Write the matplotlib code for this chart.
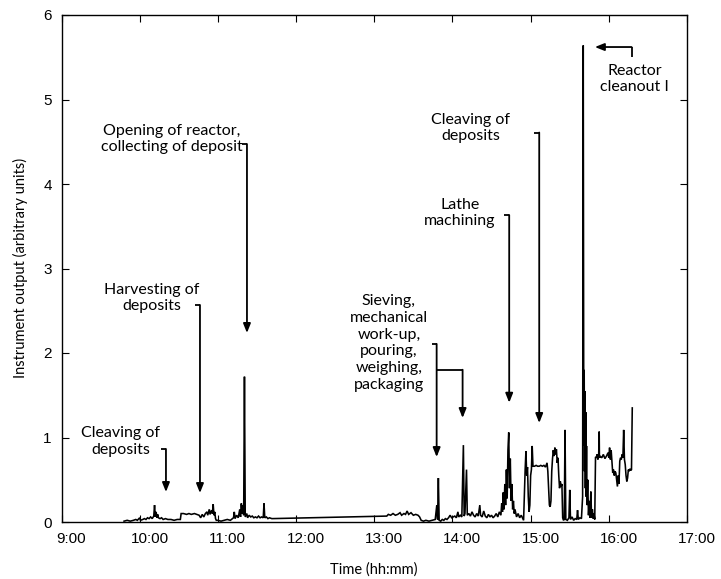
import matplotlib
matplotlib.use("Agg")
import matplotlib.pyplot as plt
import matplotlib.transforms as mtransforms

# ---------------- data (time in decimal hours, output in arbitrary units) -------------
time_morning = [9.80, 9.84, 9.88, 9.92, 9.95, 9.97, 10.00, 10.01, 10.04, 10.06, 10.08, 10.10,
                10.12, 10.14, 10.16, 10.18, 10.19, 10.20, 10.21, 10.22, 10.23, 10.24, 10.26,
                10.28, 10.30, 10.33, 10.36, 10.40, 10.44, 10.48, 10.52,
                10.53, 10.56, 10.60, 10.63, 10.66, 10.70, 10.73, 10.76, 10.78, 10.80, 10.82,
                10.84, 10.86, 10.87, 10.89, 10.90, 10.92, 10.93, 10.94, 10.95, 10.96, 10.97, 10.98,
                11.00, 11.04, 11.08, 11.12, 11.16, 11.20, 11.21, 11.22, 11.24, 11.26, 11.28, 11.29,
                11.30, 11.31, 11.32, 11.33, 11.34, 11.35, 11.37, 11.38, 11.40, 11.42, 11.44, 11.46,
                11.48, 11.50, 11.52, 11.54, 11.56, 11.58, 11.59, 11.60, 11.62, 11.64, 11.66, 11.69]
output_morning = [0.01, 0.02, 0.01, 0.02, 0.03, 0.02, 0.05, 0.02, 0.03, 0.04, 0.03, 0.05,
                  0.04, 0.06, 0.04, 0.07, 0.20, 0.06, 0.12, 0.05, 0.09, 0.05, 0.04,
                  0.05, 0.03, 0.04, 0.03, 0.03, 0.02, 0.03, 0.03,
                  0.10, 0.10, 0.09, 0.10, 0.09, 0.10, 0.09, 0.08, 0.05, 0.09, 0.06,
                  0.10, 0.12, 0.08, 0.15, 0.09, 0.14, 0.10, 0.21, 0.08, 0.12, 0.04, 0.02,
                  0.02, 0.01, 0.02, 0.03, 0.02, 0.05, 0.12, 0.04, 0.08, 0.05, 0.15, 0.06,
                  0.22, 0.10, 0.20, 0.08, 1.72, 0.06, 0.10, 0.05, 0.08, 0.06, 0.07, 0.05,
                  0.06, 0.05, 0.07, 0.05, 0.06, 0.05, 0.22, 0.05, 0.06, 0.04, 0.05, 0.04]

time_afternoon = [13.16, 13.18, 13.21, 13.24, 13.27, 13.30, 13.33, 13.35, 13.38, 13.40, 13.42,
                  13.44, 13.47, 13.50, 13.53, 13.56, 13.58, 13.60,
                  13.63, 13.66, 13.70, 13.74, 13.78, 13.80, 13.81, 13.82, 13.83, 13.85, 13.87,
                  13.89, 13.91, 13.93, 13.95, 13.97, 13.99, 14.01, 14.03, 14.05, 14.07, 14.08,
                  14.10, 14.12, 14.14, 14.15, 14.16, 14.18, 14.19, 14.21, 14.23, 14.25, 14.27,
                  14.29, 14.31, 14.33, 14.35, 14.36, 14.38, 14.40, 14.42, 14.44, 14.46, 14.48,
                  14.50, 14.52, 14.54, 14.56, 14.58, 14.60, 14.62, 14.63, 14.64, 14.65, 14.66,
                  14.67, 14.68, 14.69, 14.70, 14.71, 14.72, 14.73, 14.74, 14.75, 14.76, 14.77,
                  14.78, 14.79, 14.80, 14.82, 14.84, 14.86, 14.88, 14.90, 14.91,
                  14.93, 14.94, 14.95, 14.96, 14.97, 14.98, 14.99, 15.00, 15.01, 15.02, 15.03,
                  15.05, 15.07, 15.09, 15.11, 15.13, 15.15, 15.17, 15.19, 15.21, 15.22, 15.23,
                  15.24, 15.25, 15.26, 15.27, 15.28, 15.29, 15.30, 15.31, 15.32, 15.33, 15.34,
                  15.35, 15.36, 15.37, 15.38, 15.39, 15.40, 15.41, 15.42, 15.43, 15.44, 15.45,
                  15.47, 15.49, 15.50, 15.51, 15.53, 15.55, 15.57, 15.59, 15.60, 15.61, 15.63,
                  15.65, 15.665, 15.673, 15.68, 15.685, 15.69, 15.695, 15.70, 15.705, 15.71,
                  15.715, 15.72, 15.73, 15.74, 15.75, 15.76, 15.77, 15.78, 15.79, 15.80, 15.81,
                  15.82, 15.83, 15.84, 15.85, 15.86, 15.87, 15.877, 15.88, 15.89, 15.91, 15.93,
                  15.95, 15.97, 15.99, 16.00, 16.01, 16.02, 16.03, 16.04, 16.05, 16.06, 16.07,
                  16.08, 16.09, 16.10, 16.11, 16.12, 16.13, 16.14, 16.15, 16.16, 16.17, 16.18,
                  16.19, 16.20, 16.21, 16.22, 16.23, 16.24, 16.25, 16.26, 16.27, 16.28, 16.29,
                  16.30]
output_afternoon = [0.07, 0.09, 0.08, 0.10, 0.08, 0.09, 0.11, 0.08, 0.10, 0.09, 0.13,
                    0.09, 0.11, 0.08, 0.09, 0.08, 0.06, 0.02,
                    0.01, 0.02, 0.01, 0.02, 0.03, 0.20, 0.03, 0.52, 0.02, 0.01, 0.03,
                    0.02, 0.04, 0.03, 0.05, 0.08, 0.05, 0.06, 0.07, 0.05, 0.12, 0.06,
                    0.08, 0.06, 0.91, 0.07, 0.10, 0.62, 0.08, 0.10, 0.07, 0.12, 0.08,
                    0.06, 0.10, 0.07, 0.20, 0.08, 0.06, 0.13, 0.07, 0.05, 0.09, 0.06,
                    0.08, 0.05, 0.07, 0.10, 0.06, 0.12, 0.08, 0.22, 0.12, 0.35, 0.15,
                    0.45, 0.20, 0.62, 0.28, 0.85, 1.06, 0.40, 0.75, 0.25, 0.45, 0.15,
                    0.25, 0.10, 0.15, 0.06, 0.10, 0.05, 0.08, 0.04, 0.02,
                    0.62, 0.84, 0.55, 0.65, 0.30, 0.12, 0.20, 0.55, 0.62, 0.90, 0.66,
                    0.66, 0.67, 0.66, 0.66, 0.67, 0.66, 0.67, 0.65, 0.70, 0.60, 0.40,
                    0.20, 0.18, 0.25, 0.60, 0.75, 0.85, 0.78, 0.88, 0.80, 0.86, 0.70,
                    0.76, 0.55, 0.40, 0.48, 0.42, 0.45, 0.05, 0.02, 0.03, 1.09, 0.03,
                    0.02, 0.05, 0.38, 0.03, 0.06, 0.02, 0.04, 0.03, 0.14, 0.03, 0.05,
                    0.04, 0.30, 5.64, 0.90, 1.80, 0.60, 1.55, 0.40, 1.30, 0.30,
                    0.90, 0.20, 0.50, 0.08, 0.25, 0.05, 0.36, 0.05, 0.15, 0.04, 0.10,
                    0.03, 0.77, 0.76, 0.80, 0.74, 0.78, 1.07, 0.76, 0.78, 0.76, 0.80,
                    0.75, 0.78, 0.82, 0.76, 0.88, 0.74, 0.85, 0.72, 0.58, 0.62, 0.55,
                    0.60, 0.58, 0.50, 0.42, 0.55, 0.45, 0.72, 0.76, 0.74, 0.80, 0.76,
                    1.09, 0.74, 0.68, 0.55, 0.48, 0.52, 0.62, 0.60, 0.63, 0.61, 0.62,
                    1.35]

hour_ticks = [9, 10, 11, 12, 13, 14, 15, 16, 17]
hour_labels = ["9:00", "10:00", "11:00", "12:00", "13:00", "14:00", "15:00", "16:00", "17:00"]

# annotations: label text, text position, arrow x, bracket top y, arrow tip y
event_labels = ["Cleaving of\ndeposits", "Harvesting of\ndeposits",
                "Opening of reactor,\ncollecting of deposit",
                "Lathe\nmachining", "Cleaving of\ndeposits"]
event_text_x = [9.757, 10.157, 10.413, 14.096, 14.233]
event_text_y = [0.950, 2.651, 4.533, 3.657, 4.663]
event_arrow_x = [10.336, 10.771, 11.372, 14.726, 15.110]
event_arrow_top = [0.864, 2.568, 4.473, 3.633, 4.609]
event_arrow_tip = [0.355, 0.343, 2.237, 1.412, 1.172]

# ---------------- figure -------------
FONT = ["Lato", "DejaVu Sans"]
fig = plt.figure(figsize=(7.21, 5.79), dpi=100)
ax = fig.add_axes([61.5 / 721, 1 - 522 / 579, (687 - 61.5) / 721, (522 - 15) / 579])

ax.plot(time_morning + time_afternoon, output_morning + output_afternoon,
        color="black", lw=1.15, solid_joinstyle="miter")

ax.set_xlim(9, 17)
ax.set_ylim(0, 6)
ax.set_xticks(hour_ticks)
ax.set_xticklabels(hour_labels)
ax.set_yticks(range(0, 7))
ax.tick_params(direction="in", length=5, width=0.8, top=True, right=True,
               labelsize=11, pad=7)
for lab in ax.get_xticklabels() + ax.get_yticklabels():
    lab.set_family(["Liberation Sans", "DejaVu Sans"])
offset = mtransforms.ScaledTranslation(10 / 100, 0, fig.dpi_scale_trans)
for lab in ax.get_xticklabels():
    lab.set_transform(lab.get_transform() + offset)
for sp in ax.spines.values():
    sp.set_linewidth(1.0)

fig.text(374 / 721, 1 - 570 / 579, "Time (hh:mm)", ha="center", va="center",
         fontsize=10.5, family=FONT)
fig.text(20 / 721, 1 - 268 / 579, "Instrument output (arbitrary units)", ha="center",
         va="center", rotation=90, fontsize=10.5, family=FONT)

arrow_kw = dict(arrowstyle="-|>,head_length=0.55,head_width=0.22", lw=1.3, color="black",
                shrinkA=0, shrinkB=0, mutation_scale=10)
tick_w = 0.064
TXT = 11.5

for lbl, tx, ty, axx, atop, atip in zip(event_labels, event_text_x, event_text_y,
                                        event_arrow_x, event_arrow_top, event_arrow_tip):
    ax.text(tx, ty, lbl, ha="center", va="center", fontsize=TXT, family=FONT,
            linespacing=1.25)
    ax.plot([axx - tick_w, axx], [atop, atop], color="black", lw=1.3,
            solid_capstyle="butt")
    ax.annotate("", xy=(axx, atip), xytext=(axx, atop), arrowprops=arrow_kw)

# Sieving ... packaging (double arrow bracket)
ax.text(13.188, 2.118, "Sieving,\nmechanical\nwork-up,\npouring,\nweighing,\npackaging",
        ha="center", va="center", fontsize=TXT, family=FONT, linespacing=1.25)
ax.plot([13.798 - tick_w, 13.798], [2.107, 2.107], color="black", lw=1.3,
        solid_capstyle="butt")
ax.annotate("", xy=(13.798, 0.769), xytext=(13.798, 2.107), arrowprops=arrow_kw)
ax.plot([13.798, 14.130], [1.802, 1.802], color="black", lw=1.3, solid_capstyle="butt")
ax.annotate("", xy=(14.130, 1.231), xytext=(14.130, 1.802), arrowprops=arrow_kw)

# Reactor cleanout I
ax.text(16.334, 5.243, "Reactor\ncleanout I", ha="center", va="center", fontsize=TXT,
        family=FONT, linespacing=1.25)
ax.plot([16.291, 16.291], [5.503, 5.621], color="black", lw=1.3, solid_capstyle="butt")
ax.annotate("", xy=(15.822, 5.621), xytext=(16.291, 5.621), arrowprops=arrow_kw)

fig.savefig("out.png", dpi=100)
